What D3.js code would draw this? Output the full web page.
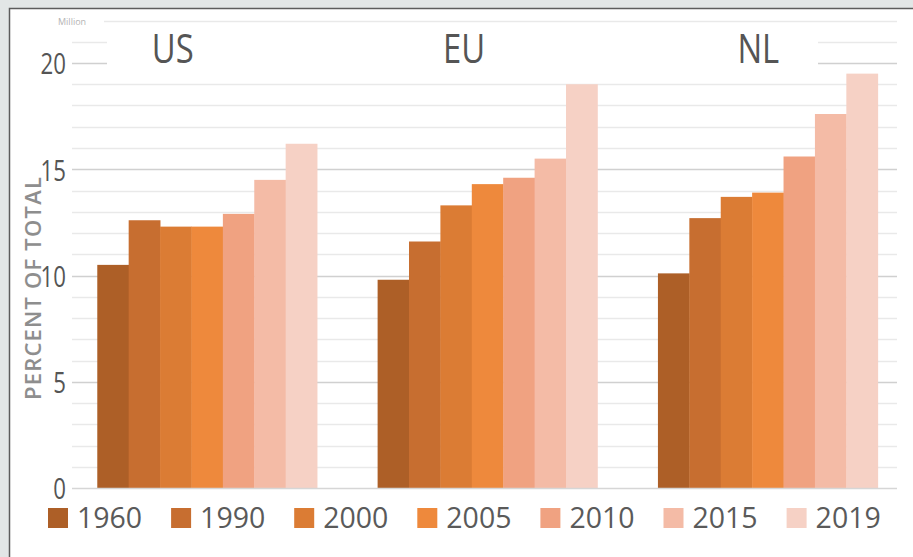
<!DOCTYPE html>
<html>
<head>
<meta charset="utf-8">
<script src="https://cdn.jsdelivr.net/npm/d3@7"></script>
<style>
  html, body { margin: 0; padding: 0; background: #e2e6e6; }
  svg { display: block; }
</style>
</head>
<body>
<svg id="chart" width="913" height="557"></svg>
<script>
// Share of total (percent) by region and year
const regions = ["US", "EU", "NL"];
const years = ["1960", "1990", "2000", "2005", "2010", "2015", "2019"];
const usValues = [10.5, 12.6, 12.3, 12.3, 12.9, 14.5, 16.2];
const euValues = [9.8, 11.6, 13.3, 14.3, 14.6, 15.5, 19.0];
const nlValues = [10.1, 12.7, 13.7, 13.9, 15.6, 17.6, 19.5];
const yTickValues = [0, 5, 10, 15, 20];
const yTickLabels = ["0", "5", "10", "15", "20"];
const yearColors = ["#ad5f27", "#c76e30", "#db7c34", "#ee893c", "#f0a281", "#f4bba6", "#f6d1c5"];

const seriesByRegion = { US: usValues, EU: euValues, NL: nlValues };

const svg = d3.select("#chart");
const W = 913, H = 557;

// panel with a dark frame on the top and left
svg.append("rect").attr("x", 0).attr("y", 0).attr("width", W).attr("height", H).attr("fill", "#e2e6e6");
svg.append("rect")
  .attr("x", 9.5).attr("y", 8.5).attr("width", 1000).attr("height", 1000)
  .attr("fill", "#ffffff").attr("stroke", "#5c5c5c").attr("stroke-width", 1.5);

// scales
const y = d3.scaleLinear().domain([0, 22]).range([488, 20.5]);
const x0 = d3.scaleBand().domain(regions).range([67, 908]).paddingInner(0.216).paddingOuter(0.108);
const x1 = d3.scaleBand().domain(years).range([0, x0.bandwidth()]).padding(0);
const color = d3.scaleOrdinal().domain(years).range(yearColors);

const gridLeft = 72, gridRight = 897;

// horizontal gridlines, one per unit, darker at every fifth
svg.append("g").selectAll("line")
  .data(d3.range(1, 23))
  .join("line")
  .attr("x1", gridLeft).attr("x2", gridRight)
  .attr("y1", d => Math.round(y(d)) + 0.5).attr("y2", d => Math.round(y(d)) + 0.5)
  .attr("stroke", d => d % 5 === 0 ? "#d0d0d0" : "#e9e9e9")
  .attr("stroke-width", 1.5);

// title strip sits over the top gridlines
svg.append("rect").attr("x", 107).attr("y", 30).attr("width", 711).attr("height", 44).attr("fill", "#ffffff");
svg.append("rect").attr("x", 55).attr("y", 14).attr("width", 49).attr("height", 14).attr("fill", "#ffffff");

// bars
const groups = svg.append("g").selectAll("g")
  .data(regions)
  .join("g")
  .attr("transform", d => `translate(${x0(d)},0)`);

groups.selectAll("rect")
  .data(r => years.map((yr, i) => ({ year: yr, value: seriesByRegion[r][i] })))
  .join("rect")
  .attr("x", d => x1(d.year))
  .attr("width", x1.bandwidth() + 0.4)
  .attr("y", d => y(d.value))
  .attr("height", d => y(0) - y(d.value))
  .attr("fill", d => color(d.year));

// baseline
svg.append("line")
  .attr("x1", gridLeft).attr("x2", gridRight)
  .attr("y1", y(0) + 0.5).attr("y2", y(0) + 0.5)
  .attr("stroke", "#d6d6d6").attr("stroke-width", 1.5);

// y axis labels
const yAxis = d3.axisLeft(y)
  .tickValues(yTickValues)
  .tickFormat((d, i) => yTickLabels[i])
  .tickSize(0)
  .tickPadding(0);

const yAxisG = svg.append("g").attr("transform", "translate(66,0)").call(yAxis);
yAxisG.select(".domain").remove();
yAxisG.selectAll("text")
  .attr("x", 0)
  .attr("dy", "0.36em")
  .attr("transform", "scale(0.74,1)")
  .style("font-family", "'Liberation Sans Narrow', 'Open Sans', sans-serif")
  .style("font-size", "30px")
  .style("fill", "#555555")
  .style("text-anchor", "end");

// units note
svg.append("text")
  .attr("x", 58).attr("y", 25)
  .style("font-family", "'Open Sans', sans-serif")
  .style("font-size", "9px")
  .style("fill", "#b4b4b4")
  .text("Million");

// axis title
svg.append("text")
  .attr("transform", "translate(41,288) rotate(-90)")
  .attr("text-anchor", "middle")
  .style("font-family", "'Open Sans', sans-serif")
  .style("font-size", "22px")
  .style("font-weight", "600")
  .style("letter-spacing", "1.2px")
  .style("fill", "#8e8e8e")
  .text("PERCENT OF TOTAL");

// region titles
const titleShift = [-34.5, -23.5, -9.5];
svg.append("g").selectAll("text")
  .data(regions)
  .join("text")
  .attr("transform", (d, i) => `translate(${x0(d) + x0.bandwidth() / 2 + titleShift[i]},63) scale(0.8,1)`)
  .attr("text-anchor", "middle")
  .style("font-family", "'Open Sans', sans-serif")
  .style("font-size", "41px")
  .style("fill", "#555555")
  .text(d => d);

// legend
const legend = svg.append("g").selectAll("g")
  .data(years)
  .join("g")
  .attr("transform", (d, i) => `translate(${48 + i * 123.1},508)`);

legend.append("rect")
  .attr("width", 20).attr("height", 20)
  .attr("fill", d => color(d));

legend.append("text")
  .attr("transform", "translate(29,20) scale(0.95,1)")
  .style("font-family", "'Open Sans', sans-serif")
  .style("font-size", "30px")
  .style("fill", "#5a5a5a")
  .text(d => d);
</script>
</body>
</html>
